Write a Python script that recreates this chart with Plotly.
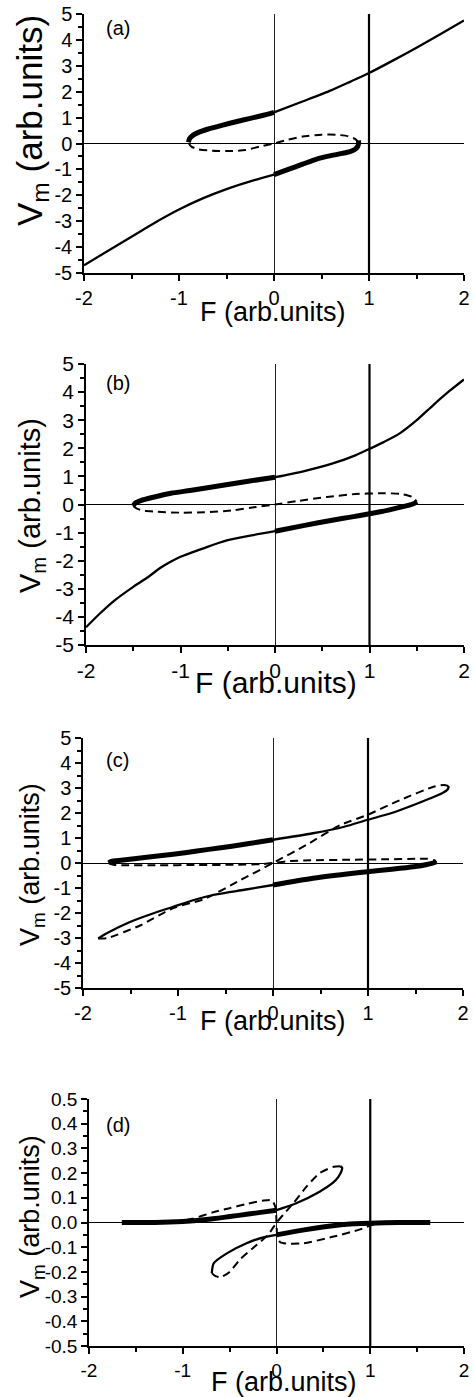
import plotly.graph_objects as go

# ---------------- data ----------------
# Panel (a)
A_up_thick_F = [-0.90, -0.89, -0.86, -0.80, -0.70, -0.55, -0.40, -0.25, -0.10, 0.00]
A_up_thick_V = [0.05, 0.18, 0.30, 0.42, 0.55, 0.70, 0.84, 0.97, 1.10, 1.20]
A_up_thin_F = [0.0, 0.3, 0.6, 0.8, 1.0, 1.25, 1.5, 1.75, 2.0]
A_up_thin_V = [1.20, 1.62, 2.05, 2.38, 2.72, 3.20, 3.70, 4.22, 4.75]
A_lo_thin_F = [-2.0, -1.5, -1.25, -1.0, -0.75, -0.5, -0.25, 0.0]
A_lo_thin_V = [-4.70, -3.60, -3.05, -2.55, -2.12, -1.76, -1.46, -1.20]
A_lo_thick_F = [0.0, 0.15, 0.30, 0.45, 0.60, 0.72, 0.80, 0.85, 0.88, 0.89, 0.89]
A_lo_thick_V = [-1.20, -1.00, -0.80, -0.60, -0.47, -0.38, -0.31, -0.23, -0.12, 0.00, 0.12]
A_dash_F = [-0.90, -0.87, -0.80, -0.65, -0.45, -0.30, -0.15, 0.0, 0.15, 0.30, 0.50, 0.65, 0.78, 0.86, 0.89]
A_dash_V = [0.02, -0.12, -0.22, -0.28, -0.29, -0.25, -0.12, 0.0, 0.15, 0.27, 0.34, 0.34, 0.28, 0.16, 0.02]

# Panel (b)
B_up_thick_F = [-1.50, -1.48, -1.42, -1.30, -1.10, -0.90, -0.60, -0.30, 0.0]
B_up_thick_V = [-0.05, 0.05, 0.14, 0.25, 0.40, 0.50, 0.66, 0.82, 0.97]
B_up_thin_F = [0.0, 0.3, 0.62, 0.85, 1.0, 1.15, 1.32, 1.5, 1.675, 1.85, 2.0]
B_up_thin_V = [0.97, 1.18, 1.47, 1.75, 1.98, 2.22, 2.53, 3.00, 3.54, 4.05, 4.45]
B_lo_thin_F = [-2.0, -1.85, -1.7, -1.5, -1.35, -1.22, -1.1, -1.0, -0.75, -0.51, -0.25, 0.0]
B_lo_thin_V = [-4.37, -3.87, -3.42, -2.93, -2.60, -2.27, -2.03, -1.86, -1.55, -1.28, -1.10, -0.95]
B_lo_thick_F = [0.0, 0.3, 0.62, 0.8, 1.0, 1.2, 1.32, 1.42, 1.48, 1.50]
B_lo_thick_V = [-0.95, -0.75, -0.55, -0.45, -0.33, -0.20, -0.10, -0.02, 0.05, 0.10]
B_dash_F = [-1.50, -1.46, -1.38, -1.25, -1.00, -0.75, -0.45, -0.20, 0.0, 0.25, 0.55, 0.85, 1.10, 1.32, 1.45, 1.50]
B_dash_V = [-0.05, -0.15, -0.22, -0.26, -0.29, -0.28, -0.21, -0.09, 0.0, 0.13, 0.27, 0.37, 0.40, 0.38, 0.27, 0.10]

# Panel (c)
C_up_thick_F = [-1.73, -1.70, -1.60, -1.33, -1.05, -0.80, -0.55, -0.35, -0.15, 0.0]
C_up_thick_V = [0.0, 0.06, 0.11, 0.23, 0.35, 0.48, 0.61, 0.72, 0.84, 0.93]
C_up_thin_F = [0.0, 0.42, 0.75, 0.99, 1.25, 1.48, 1.65, 1.78, 1.84, 1.85]
C_up_thin_V = [0.93, 1.19, 1.45, 1.72, 2.00, 2.32, 2.58, 2.79, 2.95, 3.08]
C_lo_thin_F = [-1.84, -1.80, -1.75, -1.5, -1.25, -1.05, -0.85, -0.63, -0.3, 0.0]
C_lo_thin_V = [-3.02, -2.92, -2.81, -2.35, -2.00, -1.75, -1.50, -1.28, -1.07, -0.88]
C_lo_thick_F = [0.0, 0.42, 0.99, 1.25, 1.48, 1.62, 1.70, 1.72]
C_lo_thick_V = [-0.88, -0.61, -0.35, -0.25, -0.15, -0.06, 0.02, 0.06]
C_dash_diag_F = [-1.84, -1.75, -1.40, -1.05, -0.73, -0.35, 0.0, 0.35, 0.71, 0.99, 1.34, 1.69, 1.80, 1.85]
C_dash_diag_V = [-3.02, -3.01, -2.50, -1.80, -1.45, -0.70, 0.0, 0.72, 1.52, 1.92, 2.52, 3.05, 3.12, 3.08]
C_dash_small_F = [-1.73, -1.68, -1.55, -1.20, -0.80, -0.40, -0.10, 0.0, 0.15, 0.40, 0.80, 1.20, 1.50, 1.62, 1.69, 1.72]
C_dash_small_V = [0.0, -0.07, -0.09, -0.09, -0.08, -0.07, -0.04, 0.0, 0.07, 0.11, 0.13, 0.15, 0.17, 0.17, 0.12, 0.04]

# Panel (d)
D_up_thick_F = [-1.65, -1.30, -1.00, -0.75, -0.50, -0.30, -0.15, 0.0]
D_up_thick_V = [0.0, 0.0, 0.004, 0.012, 0.024, 0.034, 0.042, 0.050]
D_up_thin_F = [0.0, 0.21, 0.46, 0.60, 0.66, 0.695, 0.70, 0.68]
D_up_thin_V = [0.050, 0.078, 0.125, 0.160, 0.185, 0.210, 0.222, 0.228]
D_lo_thin_F = [-0.69, -0.67, -0.53, -0.32, -0.14, 0.0]
D_lo_thin_V = [-0.205, -0.165, -0.125, -0.084, -0.060, -0.050]
D_lo_thick_F = [0.0, 0.20, 0.39, 0.60, 0.75, 1.00, 1.30, 1.64]
D_lo_thick_V = [-0.050, -0.036, -0.024, -0.013, -0.007, -0.003, 0.0, 0.0]
D_dash_diag_F = [0.68, 0.61, 0.46, 0.32, 0.18, 0.08, 0.0, -0.09, -0.21, -0.39, -0.50, -0.60, -0.66, -0.69]
D_dash_diag_V = [0.228, 0.226, 0.20, 0.145, 0.078, 0.035, 0.0, -0.05, -0.09, -0.15, -0.20, -0.222, -0.215, -0.205]
D_dash_s_F = [-1.10, -0.90, -0.67, -0.50, -0.32, -0.15, -0.05, -0.01, 0.0, 0.01, 0.04, 0.10, 0.29, 0.61, 0.89, 1.05]
D_dash_s_V = [0.002, 0.015, 0.042, 0.058, 0.075, 0.088, 0.090, 0.060, 0.0, -0.060, -0.080, -0.085, -0.084, -0.057, -0.028, -0.005]

# ticks / labels
X_TICKS = [-2, -1, 0, 1, 2]
X_TICKTEXT = ["-2", "-1", "0", "1", "2"]
Y_TICKS = [-5, -4, -3, -2, -1, 0, 1, 2, 3, 4, 5]
Y_TICKTEXT = ["-5", "-4", "-3", "-2", "-1", "0", "1", "2", "3", "4", "5"]
YD_TICKS = [-0.5, -0.4, -0.3, -0.2, -0.1, 0.0, 0.1, 0.2, 0.3, 0.4, 0.5]
YD_TICKTEXT = ["-0.5", "-0.4", "-0.3", "-0.2", "-0.1", "0.0", "0.1", "0.2", "0.3", "0.4", "0.5"]
REF_F = 1
PANEL_LABELS = ["(a)", "(b)", "(c)", "(d)"]
X_TITLE = "F (arb.units)"
Y_TITLE = "V<sub>m</sub> (arb.units)"

# ---------------- layout geometry (pixels) ----------------
W, H = 473, 1397
FONT = "Arial, Liberation Sans, sans-serif"
panels = [
    dict(x0=84, x1=464, y0=14, y1=273, yr=[-5, 5], yt=(Y_TICKS, Y_TICKTEXT), ydt=0.5, tfs=20,
         xt=(273, 312, 27), yl=(32, 121, 35), lab=(118, 28)),
    dict(x0=86, x1=464, y0=364, y1=645, yr=[-5, 5], yt=(Y_TICKS, Y_TICKTEXT), ydt=0.5, tfs=21,
         xt=(276, 682, 30), yl=(32, 506, 29), lab=(118, 383)),
    dict(x0=83, x1=463, y0=738, y1=988, yr=[-5, 5], yt=(Y_TICKS, Y_TICKTEXT), ydt=0.5, tfs=20,
         xt=(273, 1021, 27), yl=(32, 865, 27), lab=(117, 760)),
    dict(x0=89, x1=464, y0=1099, y1=1346, yr=[-0.5, 0.5], yt=(YD_TICKS, YD_TICKTEXT), ydt=0.05, tfs=19,
         xt=(284, 1382, 27), yl=(32, 1217, 27), lab=(118, 1125)),
]

series = [
    dict(thick=[(A_up_thick_F, A_up_thick_V), (A_lo_thick_F, A_lo_thick_V)],
         thin=[(A_up_thin_F, A_up_thin_V), (A_lo_thin_F, A_lo_thin_V)],
         dash=[(A_dash_F, A_dash_V)]),
    dict(thick=[(B_up_thick_F, B_up_thick_V), (B_lo_thick_F, B_lo_thick_V)],
         thin=[(B_up_thin_F, B_up_thin_V), (B_lo_thin_F, B_lo_thin_V)],
         dash=[(B_dash_F, B_dash_V)]),
    dict(thick=[(C_up_thick_F, C_up_thick_V), (C_lo_thick_F, C_lo_thick_V)],
         thin=[(C_up_thin_F, C_up_thin_V), (C_lo_thin_F, C_lo_thin_V)],
         dash=[(C_dash_diag_F, C_dash_diag_V), (C_dash_small_F, C_dash_small_V)]),
    dict(thick=[(D_up_thick_F, D_up_thick_V), (D_lo_thick_F, D_lo_thick_V)],
         thin=[(D_up_thin_F, D_up_thin_V), (D_lo_thin_F, D_lo_thin_V)],
         dash=[(D_dash_diag_F, D_dash_diag_V), (D_dash_s_F, D_dash_s_V)]),
]

fig = go.Figure()
layout = dict(width=W, height=H, margin=dict(l=0, r=0, t=0, b=0, autoexpand=False),
              plot_bgcolor="white", paper_bgcolor="white", showlegend=False,
              font=dict(family=FONT, color="black"))
annotations = []
shapes = []

for i, (p, s) in enumerate(zip(panels, series)):
    n = "" if i == 0 else str(i + 1)
    xa, ya = "x" + n, "y" + n
    layout["xaxis" + n] = dict(
        domain=[p["x0"] / W, p["x1"] / W], range=[-2, 2], anchor=ya, automargin=False,
        showline=True, linecolor="black", linewidth=1.5, mirror=False,
        ticks="outside", ticklen=6, tickwidth=1.5, tickcolor="black",
        tickvals=X_TICKS, ticktext=X_TICKTEXT,
        tickfont=dict(size=p["tfs"], family=FONT, color="black"),
        showgrid=False, zeroline=True, zerolinecolor="#222", zerolinewidth=1.2,
        minor=dict(ticks="outside", ticklen=4, tickwidth=1.5, tickcolor="black",
                   dtick=0.5, tick0=0, showgrid=False),
    )
    layout["yaxis" + n] = dict(
        domain=[1 - p["y1"] / H, 1 - p["y0"] / H], range=p["yr"], anchor=xa, automargin=False,
        showline=True, linecolor="black", linewidth=1.5, mirror=False,
        ticks="outside", ticklen=6, tickwidth=1.5, tickcolor="black",
        tickvals=p["yt"][0], ticktext=p["yt"][1],
        tickfont=dict(size=p["tfs"], family=FONT, color="black"),
        showgrid=False, zeroline=True, zerolinecolor="black", zerolinewidth=1.3,
        minor=dict(ticks="outside", ticklen=4, tickwidth=1.5, tickcolor="black",
                   dtick=p["ydt"], tick0=0, showgrid=False),
    )
    shapes.append(dict(type="line", xref=xa, yref=ya + " domain", x0=REF_F, x1=REF_F,
                       y0=0, y1=1, line=dict(color="black", width=2.2)))
    for F, V in s["thin"]:
        fig.add_trace(go.Scatter(x=F, y=V, mode="lines", xaxis=xa, yaxis=ya,
                                 line=dict(color="black", width=2.3, shape="spline", smoothing=0.7)))
    for F, V in s["thick"]:
        fig.add_trace(go.Scatter(x=F, y=V, mode="lines", xaxis=xa, yaxis=ya,
                                 line=dict(color="black", width=5, shape="spline", smoothing=0.6)))
    for F, V in s["dash"]:
        fig.add_trace(go.Scatter(x=F, y=V, mode="lines", xaxis=xa, yaxis=ya,
                                 line=dict(color="black", width=2, dash="8px,5px",
                                           shape="spline", smoothing=0.6)))
    xt = p["xt"]
    annotations.append(dict(text=X_TITLE, xref="paper", yref="paper",
                            x=xt[0] / W, y=1 - xt[1] / H, xanchor="center", yanchor="middle",
                            showarrow=False, font=dict(size=xt[2], family=FONT, color="black")))
    yl = p["yl"]
    annotations.append(dict(text=Y_TITLE, xref="paper", yref="paper", textangle=-90,
                            x=yl[0] / W, y=1 - yl[1] / H, xanchor="center", yanchor="middle",
                            showarrow=False, font=dict(size=yl[2], family=FONT, color="black")))
    lb = p["lab"]
    annotations.append(dict(text=PANEL_LABELS[i], xref="paper", yref="paper",
                            x=lb[0] / W, y=1 - lb[1] / H, xanchor="center", yanchor="middle",
                            showarrow=False, font=dict(size=20, family=FONT, color="black")))

layout["annotations"] = annotations
layout["shapes"] = shapes
fig.update_layout(**layout)
fig.write_html("out.html", config={"displayModeBar": False},
               post_script="document.body.style.margin='0';")
